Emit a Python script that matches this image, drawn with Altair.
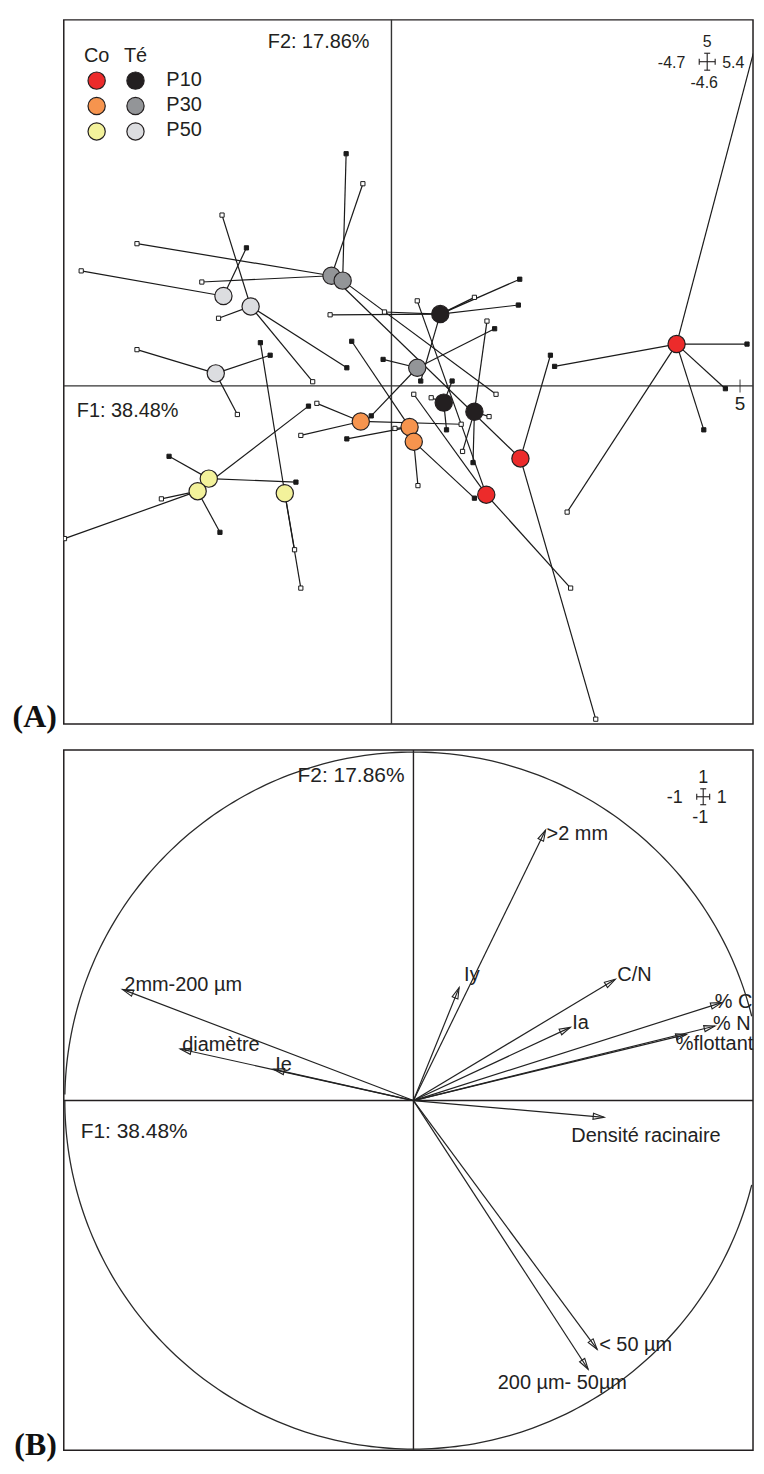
import altair as alt
import pandas as pd

# ---------------- Panel (A): group centroids on F1/F2 ----------------
cent_id = ["R1", "R2", "R3", "O1", "O2", "O3", "Y1", "Y2", "Y3",
           "K1", "K2", "K3", "G1", "G2", "G3", "L1", "L2", "L3"]
cent_site = ["Co"] * 9 + ["Té"] * 9
cent_depth = (["P10"] * 3 + ["P30"] * 3 + ["P50"] * 3) * 2
cent_f1 = [4.09, 1.85, 1.36, -0.44, 0.26, 0.32, -2.62, -2.78, -1.53,
           0.70, 0.75, 1.19, -0.86, -0.70, 0.37, -2.41, -2.02, -2.52]
cent_f2 = [0.60, -1.04, -1.56, -0.51, -0.59, -0.80, -1.33, -1.51, -1.54,
           1.03, -0.24, -0.37, 1.58, 1.51, 0.26, 1.29, 1.14, 0.18]

# individual samples (small squares) and the centroid they belong to
samp_owner = ["R1", "R1", "R1", "R1", "R1", "R1",
              "R2", "R2",
              "R3", "R3", "R3",
              "O1", "O1", "O1",
              "O2", "O2", "O2",
              "O3", "O3",
              "Y1", "Y1",
              "Y2", "Y2", "Y2", "Y2",
              "Y3", "Y3", "Y3",
              "K1", "K1", "K1", "K1", "K1", "K1",
              "K2", "K2", "K2",
              "K3", "K3", "K3", "K3",
              "G1", "G1", "G1", "G1",
              "G2", "G2",
              "G3", "G3", "G3",
              "L1", "L1",
              "L2", "L2", "L2", "L2",
              "L3", "L3", "L3"]
samp_f1 = [5.19, 5.10, 4.79, 4.48, 2.52, 2.34,
           2.28, 2.93,
           0.37, 0.32, 2.57,
           -1.07, -1.30, 1.00,
           -0.57, -0.64, 0.05,
           0.38, 1.19,
           -3.19, -1.37,
           -3.30, -4.69, -2.46, -1.19,
           -1.88, -1.39, -1.30,
           -0.88, -0.10, 1.19, 1.84, 1.82, 0.42,
           0.57, 0.87, 0.79,
           1.37, 1.40, 1.02, 1.17,
           -3.65, -2.72, -0.41, 1.85,
           -0.65, 1.50,
           -0.12, 1.48, -0.29,
           -4.45, -2.08,
           -2.43, -2.48, -1.13, -0.64,
           -3.65, -1.74, -2.21]
samp_f2 = [4.77, 0.60, -0.04, -0.63, -1.81, 0.28,
           0.44, -4.78,
           1.22, -0.12, -2.90,
           -0.25, -0.71, -0.55,
           0.64, -0.76, -0.61,
           -1.43, -1.61,
           -1.01, -1.38,
           -1.62, -2.19, -2.10, -0.29,
           0.62, -2.35, -2.90,
           1.02, 1.06, 1.27, 1.53, 1.16, 0.07,
           -0.17, 0.07, -0.63,
           0.93, -0.44, -0.94, -1.10,
           2.04, 1.49, 2.90, -1.04,
           3.33, -0.12,
           0.38, 0.82, -0.43,
           1.65, 1.98,
           2.45, 0.97, 0.06, 0.26,
           0.52, 0.44, -0.41]
samp_kind = ["open", "filled", "filled", "filled", "open", "filled",
             "filled", "open",
             "open", "open", "open",
             "open", "open", "open",
             "filled", "filled", "open",
             "open", "filled",
             "filled", "filled",
             "open", "open", "filled", "filled",
             "filled", "open", "open",
             "open", "open", "open", "filled", "filled", "filled",
             "open", "filled", "filled",
             "open", "open", "open", "filled",
             "open", "open", "open", "open",
             "filled", "open",
             "filled", "filled", "filled",
             "open", "filled",
             "open", "open", "open", "filled",
             "open", "filled", "open"]

site_levels = ["Co", "Té"]
depth_levels = ["P10", "P30", "P50"]
key_domain = ["Co P10", "Co P30", "Co P50", "Té P10", "Té P30", "Té P50"]
key_colors = ["#ec2b2b", "#f6944e", "#f3f29b", "#231f20", "#939598", "#dcdde0"]

# ---------------- Panel (B): correlation circle ----------------
var_names = [">2 mm", "Iy", "C/N", "Ia", "% C", "% N", "%flottant",
             "Densité racinaire", "< 50 µm", "200 µm- 50µm",
             "2mm-200 µm", "diamètre", "Ie"]
var_f1 = [0.379, 0.131, 0.579, 0.450, 0.884, 0.865, 0.784,
          0.547, 0.527, 0.501, -0.835, -0.669, -0.402]
var_f2 = [0.776, 0.324, 0.348, 0.210, 0.281, 0.214, 0.190,
          -0.048, -0.714, -0.771, 0.319, 0.148, 0.090]

# ---------------- tables ----------------
cent_df = pd.DataFrame({"id": cent_id, "site": cent_site, "depth": cent_depth,
                        "f1": cent_f1, "f2": cent_f2})
cent_df["key"] = cent_df["site"] + " " + cent_df["depth"]
samp_df = pd.DataFrame({"id": samp_owner, "s1": samp_f1, "s2": samp_f2, "kind": samp_kind})
seg_df = samp_df.merge(cent_df, on="id")
leg_df = pd.DataFrame([(s, d) for d in depth_levels for s in site_levels], columns=["site", "depth"])
leg_df["key"] = leg_df["site"] + " " + leg_df["depth"]
var_df = pd.DataFrame({"name": var_names, "f1": var_f1, "f2": var_f2})
zero_df = pd.DataFrame({"v": [0.0]})
one_df = pd.DataFrame({"k": [0]})

INK = "#231f20"
AX = "#333333"
COLOR = alt.Color("key:N", scale=alt.Scale(domain=key_domain, range=key_colors), legend=None)
W = 692


def cross(cx, cy, ax, ay, s, labels, size):
    base = alt.Chart(one_df)
    rk = dict(color=INK, strokeWidth=1.1)
    parts = [
        base.mark_rule(**rk).encode(x=alt.value(cx - ax), x2=alt.value(cx + ax), y=alt.value(cy)),
        base.mark_rule(**rk).encode(x=alt.value(cx), y=alt.value(cy - ay), y2=alt.value(cy + ay)),
        base.mark_rule(**rk).encode(x=alt.value(cx - ax), y=alt.value(cy - s), y2=alt.value(cy + s)),
        base.mark_rule(**rk).encode(x=alt.value(cx + ax), y=alt.value(cy - s), y2=alt.value(cy + s)),
        base.mark_rule(**rk).encode(x=alt.value(cx - s), x2=alt.value(cx + s), y=alt.value(cy - ay)),
        base.mark_rule(**rk).encode(x=alt.value(cx - s), x2=alt.value(cx + s), y=alt.value(cy + ay)),
    ]
    top, left, right, bottom = labels
    tk = dict(fontSize=size, baseline="alphabetic", color=INK)
    parts += [
        base.mark_text(text=top, align="center", **tk).encode(x=alt.value(cx), y=alt.value(cy - ay - 6)),
        base.mark_text(text=left, align="right", **tk).encode(x=alt.value(cx - ax - 14), y=alt.value(cy + 6)),
        base.mark_text(text=right, align="left", **tk).encode(x=alt.value(cx + ax + 7), y=alt.value(cy + 6)),
        base.mark_text(text=bottom, align="center", **tk).encode(x=alt.value(cx - 3), y=alt.value(cy + ay + 18)),
    ]
    return parts


# ================= Panel A =================
XMAX_A = 5.186
XA = alt.Scale(domain=[-4.7, XMAX_A], nice=False, zero=False)
YA = alt.Scale(domain=[-4.85, 5.25], nice=False, zero=False)
xa = lambda f: alt.X(f, scale=XA, axis=None)
ya = lambda f: alt.Y(f, scale=YA, axis=None)

a_vax = alt.Chart(zero_df).mark_rule(color=AX, strokeWidth=1.4).encode(x=xa("v:Q"))
a_hax = alt.Chart(zero_df).mark_rule(color=AX, strokeWidth=1.4).encode(y=ya("v:Q"))
tick_df = pd.DataFrame({"t": [5.0], "z": [0.0], "lab": ["5"]})
a_tick = alt.Chart(tick_df).mark_tick(orient="vertical", size=13, thickness=1.3, color=AX).encode(
    x=xa("t:Q"), y=ya("z:Q"))
a_tick_lab = alt.Chart(tick_df).mark_text(fontSize=19, dy=24, baseline="alphabetic", color=INK).encode(
    x=xa("t:Q"), y=ya("z:Q"), text="lab:N")

a_spokes = alt.Chart(seg_df).mark_rule(color="#1a1a1a", strokeWidth=1.2, clip=True).encode(
    x=xa("f1:Q"), y=ya("f2:Q"), x2="s1:Q", y2="s2:Q")
# samples lying beyond the right border are not drawn (only their spoke shows)
a_samp = alt.Chart(samp_df).transform_filter(f"datum.s1 < {XMAX_A - 0.05}").mark_square(
    size=18, stroke="#1a1a1a", strokeWidth=1, opacity=1, clip=True).encode(
    x=xa("s1:Q"), y=ya("s2:Q"),
    fill=alt.Fill("kind:N", scale=alt.Scale(domain=["open", "filled"], range=["white", "#1a1a1a"]), legend=None))
a_cent = alt.Chart(cent_df).mark_circle(size=300, stroke=INK, strokeWidth=1.2, opacity=1).encode(
    x=xa("f1:Q"), y=ya("f2:Q"), color=COLOR)

a_f2 = alt.Chart(zero_df).mark_text(text="F2: 17.86%", align="right", baseline="alphabetic",
                                    fontSize=20, dx=-22, color=INK).encode(x=xa("v:Q"), y=alt.value(28))
a_f1 = alt.Chart(zero_df).mark_text(text="F1: 38.48%", align="left", baseline="alphabetic",
                                    fontSize=20, dy=31, color=INK).encode(x=alt.value(13), y=ya("v:Q"))
a_tag = alt.Chart(one_df).mark_text(text="(A)", font="Liberation Serif", fontWeight="bold", fontSize=32,
                                    align="right", baseline="alphabetic", color="#111").encode(
    x=alt.value(-7), y=alt.value(710))

main_a = alt.layer(a_vax, a_hax, a_spokes, a_samp, a_cent, a_tick, a_tick_lab, a_f2, a_f1, a_tag,
                   *cross(646, 42, 8, 8.5, 3, ("5", "-4.7", "5.4", "-4.6"), 16))

LX = alt.Scale(type="point", domain=site_levels, range=[33, 72], padding=0)
LY = alt.Scale(type="point", domain=depth_levels, range=[61, 112], padding=0)
leg_c = alt.Chart(leg_df).mark_circle(size=300, stroke=INK, strokeWidth=1.2, opacity=1).encode(
    x=alt.X("site:N", scale=LX, axis=None), y=alt.Y("depth:N", scale=LY, axis=None), color=COLOR)
leg_h = alt.Chart(pd.DataFrame({"site": site_levels})).mark_text(
    fontSize=20, align="center", baseline="alphabetic", color=INK).encode(
    x=alt.X("site:N", scale=LX, axis=None), y=alt.value(42), text="site:N")
leg_l = alt.Chart(pd.DataFrame({"depth": depth_levels})).mark_text(
    fontSize=20, align="left", baseline="middle", dy=-1, color=INK).encode(
    x=alt.value(103), y=alt.Y("depth:N", scale=LY, axis=None), text="depth:N")
leg_a = alt.layer(leg_c, leg_h, leg_l)

panel_a = alt.layer(main_a, leg_a).resolve_scale(x="independent", y="independent").properties(
    width=W, height=707)

# ================= Panel B =================
XMAX_B = 0.974
XB = alt.Scale(domain=[-1.003, XMAX_B], nice=False, zero=False)
YB = alt.Scale(domain=[-1.003, 1.006], nice=False, zero=False)
xb = lambda f: alt.X(f, scale=XB, axis=None)
yb = lambda f: alt.Y(f, scale=YB, axis=None)
BINK = "#222222"

b_vax = alt.Chart(zero_df).mark_rule(color=INK, strokeWidth=1.4).encode(x=xb("v:Q"))
b_hax = alt.Chart(zero_df).mark_rule(color=INK, strokeWidth=1.4).encode(y=yb("v:Q"))
b_circ = alt.Chart(alt.sequence(0, 361, 1, as_="deg")).transform_calculate(
    cx="cos(datum.deg * PI / 180)", cy="sin(datum.deg * PI / 180)",
    side="datum.deg < 180 ? 'up' : 'down'").transform_filter(
    f"datum.cx <= {XMAX_B - 0.002}").mark_line(
    color="#2a2a2a", strokeWidth=1.3).encode(x=xb("cx:Q"), y=yb("cy:Q"), order="deg:Q",
                                             detail="side:N")
b_arrows = alt.Chart(var_df).transform_calculate(o="0").mark_rule(color=BINK, strokeWidth=1.2).encode(
    x=xb("o:Q"), y=yb("o:Q"), x2="f1:Q", y2="f2:Q")
b_heads = alt.Chart(var_df).transform_calculate(
    ang="(360 - atan2(datum.f2, datum.f1) * 180 / PI) % 360").mark_point(
    shape="M0,0L-1,-0.28L-1,0.28Z", size=484, filled=False, color=BINK, strokeWidth=1.1, opacity=1).encode(
    x=xb("f1:Q"), y=yb("f2:Q"), angle=alt.Angle("ang:Q", scale=None))

label_groups = [
    (["C/N", "Ia", "2mm-200 µm", "diamètre", "Ie", "< 50 µm"], dict(align="left", dx=2, dy=2)),
    (["Iy"], dict(align="left", dx=5, dy=-7)),
    ([">2 mm"], dict(align="left", dx=1, dy=10)),
    (["% C"], dict(align="left", dx=-7, dy=5)),
    (["% N"], dict(align="left", dx=-2, dy=4)),
    (["%flottant"], dict(align="left", dx=-11, dy=16)),
    (["Densité racinaire"], dict(align="left", dx=-33, dy=25)),
    (["200 µm- 50µm"], dict(align="right", dx=39, dy=20)),
]
b_labels = [
    alt.Chart(var_df).transform_filter(alt.FieldOneOfPredicate(field="name", oneOf=names)).mark_text(
        fontSize=20, baseline="alphabetic", color=BINK, **kw).encode(
        x=xb("f1:Q"), y=yb("f2:Q"), text="name:N")
    for names, kw in label_groups
]

b_f2 = alt.Chart(zero_df).mark_text(text="F2: 17.86%", align="right", baseline="alphabetic",
                                    fontSize=21, dx=-9, color=BINK).encode(x=xb("v:Q"), y=alt.value(32))
b_f1 = alt.Chart(zero_df).mark_text(text="F1: 38.48%", align="left", baseline="alphabetic",
                                    fontSize=21, dy=38, color=BINK).encode(x=alt.value(17), y=yb("v:Q"))
b_tag = alt.Chart(one_df).mark_text(text="(B)", font="Liberation Serif", fontWeight="bold", fontSize=32,
                                    align="right", baseline="alphabetic", color="#111").encode(
    x=alt.value(-7), y=alt.value(708))

panel_b = alt.layer(b_vax, b_hax, b_circ, b_arrows, b_heads, *b_labels, b_f2, b_f1, b_tag,
                    *cross(642, 47, 6.5, 8, 3, ("1", "-1", "1", "-1"), 18)).properties(
    width=W, height=703)

chart = alt.vconcat(panel_a, panel_b, spacing=26, bounds="flush").properties(
    padding={"left": 3, "top": 7, "right": 0, "bottom": 0}
).configure_view(stroke=INK, strokeWidth=1.5).configure_text(font="Liberation Sans")

chart.save("out.html", embed_options={"renderer": "svg", "actions": False})
